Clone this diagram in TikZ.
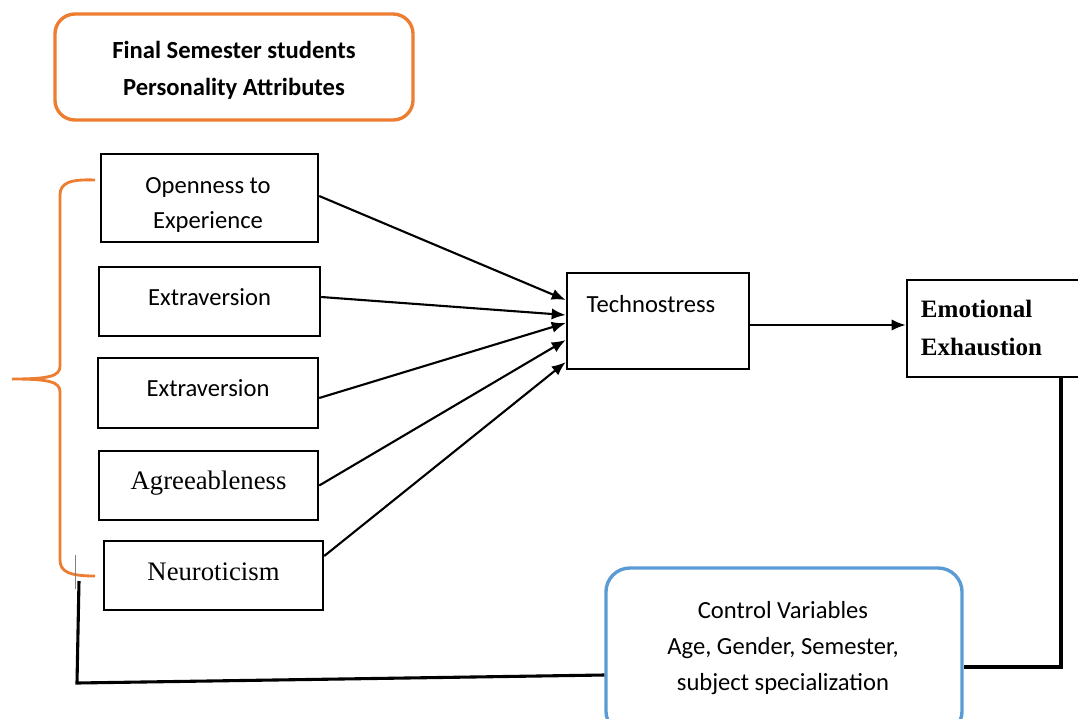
\documentclass[tikz,border=0pt]{standalone}
\usepackage{fontspec}
\usetikzlibrary{arrows.meta,calc}
\newfontfamily\calib{Carlito}
\newfontfamily\tnr{Liberation Serif}
\definecolor{FrameClr}{rgb}{0.929,0.490,0.192}
\definecolor{CtrlClr}{rgb}{0.357,0.608,0.835}

\begin{document}
\begin{tikzpicture}[x=0.025cm,y=-0.025cm,
  box/.style={draw,line width=1.7pt,inner sep=0pt,align=center},
  sans/.style={font=\calib\fontsize{17.5}{24.4}\selectfont,align=center},
  serif/.style={font=\tnr\fontsize{19}{24}\selectfont},
  lift/.style={text depth=#1},
  arr/.style={-{Latex[length=10pt,width=8pt]},line width=1.5pt},
  link/.style={line width=2.2pt}]
\useasboundingbox (0,0) rectangle (1078,718);

\node[box,draw=FrameClr,line width=2.4pt,rounded corners=0.5cm,minimum width=8.95cm,minimum height=2.65cm] (attr) at (234,67) {};
\node[sans,font=\calib\bfseries\fontsize{17.5}{26.3}\selectfont] (attrtxt) at (234,70) {Final Semester students\\Personality Attributes};

\node[box,minimum width=5.425cm,minimum height=2.2cm] (open) at (209.5,198) {};
\node[sans,font=\calib\fontsize{17.5}{24.2}\selectfont] (opentxt) at (208,205) {Openness to\\Experience};
\node[box,sans,lift=6.4pt,minimum width=5.525cm,minimum height=1.725cm] (extra) at (209.5,301.5) {Extraversion};
\node[box,sans,lift=6.4pt,minimum width=5.5cm,minimum height=1.75cm] (extrb) at (208,393) {Extraversion};
\node[box,serif,lift=7pt,minimum width=5.475cm,minimum height=1.725cm] (agree) at (208.5,485.5) {Agreeableness};
\node[box,serif,lift=5.7pt,minimum width=5.475cm,minimum height=1.725cm] (neuro) at (213.5,575.5) {Neuroticism};

\node[box,minimum width=4.55cm,minimum height=2.4cm] (tech) at (658,321) {};
\node[sans] (techtxt) at (651,304) {Technostress};

\node[box,minimum width=4.5cm,minimum height=2.425cm] (ee) at (997,328.5) {};
\node[font=\tnr\bfseries\fontsize{17.8}{27}\selectfont,align=left,anchor=west] (eetxt) at (916,328) {Emotional\\Exhaustion};

\node[box,draw=CtrlClr,line width=2.4pt,rounded corners=0.6cm,minimum width=8.9cm,minimum height=4.175cm] (ctrl) at (784,651.5) {};
\node[sans,font=\calib\fontsize{17.5}{25.6}\selectfont] (ctrltxt) at (783,648) {Control Variables\\Age, Gender, Semester,\\subject specialization};

\foreach \src/\sy/\ty in {open/-2/-21,extra/-4.5/-6,extrb/5/2,agree/0/19,neuro/-19.5/41}
  \draw[arr] ($(\src.east)+(0,\sy)$) -- ($(tech.west)+(0,\ty)$);
\draw[arr] ($(tech.east)+(0,4)$) -- ($(tech.east -| ee.west)+(0,4)$);

\draw[FrameClr,line width=2pt] (95,180) .. controls (70,179) and (60,183) .. (60,195) -- (60,366)
  .. controls (60,376) and (50,379) .. (12,379) .. controls (50,379) and (60,382) .. (60,392) -- (60,560)
  .. controls (60,572) and (70,576) .. (95,576);

\coordinate (cr) at (1061,667);
\coordinate (cl) at (77,683);
\coordinate (ctop) at (79,581);
\draw[link] (ee.south -| cr) -- (cr) -- (cr -| ctrl.east);
\draw[link] ($(ctrl.west)+(0,23.5)$) -- (cl) -- (ctop);
\draw[gray,line width=0.6pt] (75,555) -- (75,589);

\end{tikzpicture}
\end{document}
